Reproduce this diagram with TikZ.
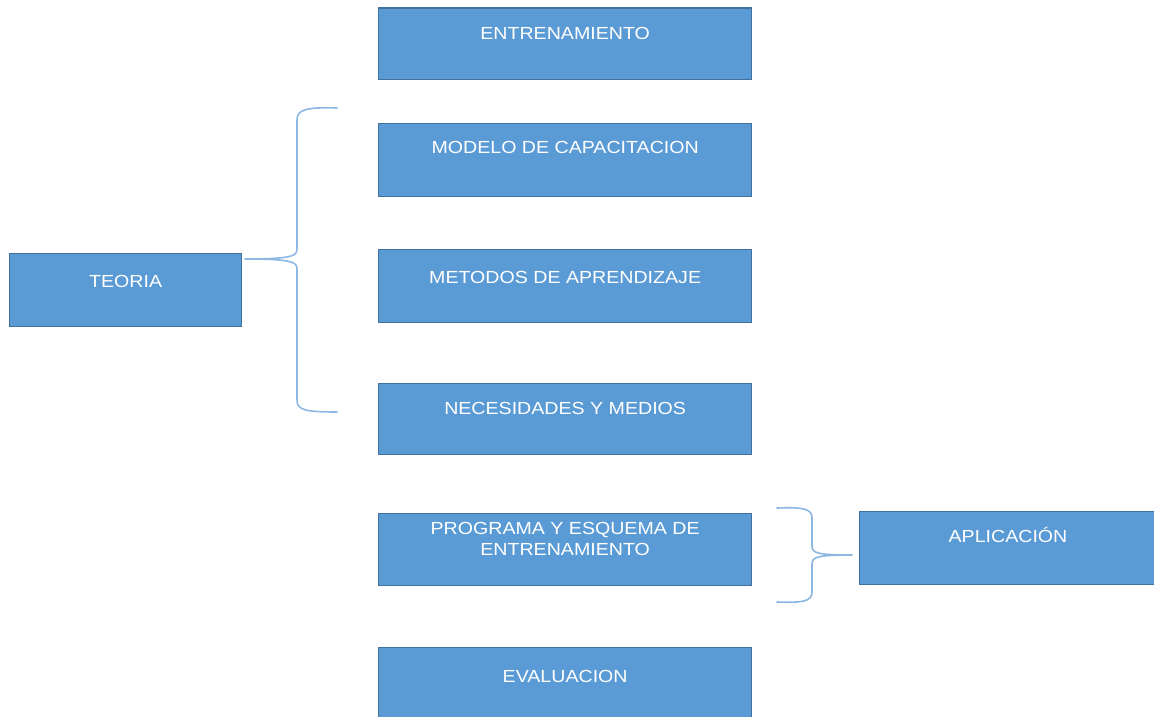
\documentclass[tikz,border=0pt]{standalone}
\usepackage{fontspec}
\setmainfont{Liberation Sans}[FakeStretch=1.12]
\definecolor{boxfill}{HTML}{5B9BD5}
\definecolor{boxline}{HTML}{41719C}
\definecolor{bracecol}{HTML}{8DB8E2}
\begin{document}
\begin{tikzpicture}[x=1pt,y=-1pt,
  box/.style={draw=boxline, fill=boxfill, line width=1.3pt, rectangle, anchor=north west, inner sep=0pt, minimum width=373pt, minimum height=72pt},
  txt/.style={text=white, anchor=base, inner sep=0pt, align=center, font=\fontsize{17.5}{21}\selectfont},
  brace/.style={draw=bracecol, line width=1.6pt, line cap=round, line join=round}]
\clip (0,0) rectangle (1154,717);
\fill[white] (0,0) rectangle (1154,717);
% boxes
\node[box, minimum height=71.5pt] (b1) at (378,7.5) {};
\node[box, minimum height=73pt] (b2) at (378,123) {};
\node[box, minimum height=73.5pt] (b3) at (378,248.5) {};
\node[box, minimum height=71.5pt] (b4) at (378,382.5) {};
\node[box, minimum height=72pt] (b5) at (378,513) {};
\node[box, minimum height=76pt] (b6) at (378,647) {};
\node[box, minimum width=232pt, minimum height=73pt] (teoria) at (9,253) {};
\node[box, minimum width=310pt, minimum height=73pt] (apl) at (859,511) {};
% texts
\node[txt] (t1) at ([yshift=-32pt]b1.north) {ENTRENAMIENTO};
\node[txt] (t2) at ([yshift=-30.5pt]b2.north) {MODELO DE CAPACITACION};
\node[txt] (t3) at ([yshift=-35pt]b3.north) {METODOS DE APRENDIZAJE};
\node[txt] (t4) at ([yshift=-32pt]b4.north) {NECESIDADES Y MEDIOS};
\node[txt] (t5) at ([yshift=-42.5pt]b5.north) {PROGRAMA Y ESQUEMA DE\\ENTRENAMIENTO};
\node[txt] (t6) at ([yshift=-35pt]b6.north) {EVALUACION};
\node[txt] (t7) at ([yshift=-34pt]teoria.north) {TEORIA};
\node[txt, xshift=2pt] (t8) at ([yshift=-31.5pt]apl.north -| 1006,0) {APLICACIÓN};
% left brace
\coordinate (lbT) at (337,108);
\coordinate (lbB) at (337,412);
\coordinate (lbTip) at (245,259);
\draw[brace] (lbT) .. controls (305,107) and (297,110) .. (297,120)
  -- (297,249) .. controls (297,256) and (292,259) .. (lbTip)
  .. controls (292,259) and (297,262) .. (297,269)
  -- (297,400) .. controls (297,410) and (305,412) .. (lbB);
% right brace
\coordinate (rbT) at (777,508);
\coordinate (rbB) at (777,602);
\coordinate (rbTip) at (852,555);
\draw[brace] (rbT) .. controls (804,507) and (812,509) .. (812,518)
  -- (812,546) .. controls (812,553) and (817,555) .. (rbTip)
  .. controls (817,555) and (812,557) .. (812,564)
  -- (812,592) .. controls (812,601) and (804,603) .. (rbB);
\end{tikzpicture}
\end{document}
